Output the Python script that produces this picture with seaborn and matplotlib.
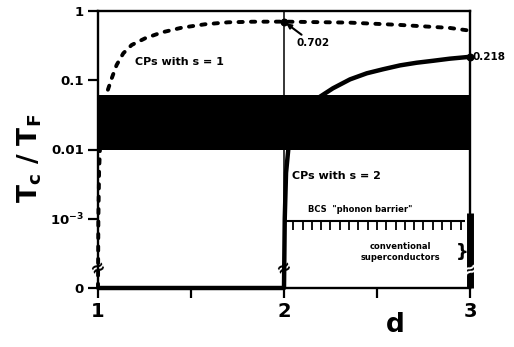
import numpy as np
import matplotlib
matplotlib.use("Agg")
import matplotlib.pyplot as plt
from matplotlib.ticker import NullLocator
import seaborn as sns

# ---------------- data ----------------
# CPs with s = 1 (dashed curve)
d_s1 = [1.0, 1.002, 1.006, 1.015, 1.03, 1.047, 1.074, 1.10, 1.136, 1.181, 1.253,
        1.342, 1.45, 1.575, 1.70, 1.83, 2.0, 2.35, 2.62, 2.89, 3.0]
tc_s1 = [0.0, 1e-3, 5e-3, 0.02, 0.045, 0.065, 0.107, 0.166, 0.245, 0.323, 0.403,
         0.49, 0.574, 0.643, 0.687, 0.70, 0.702, 0.68, 0.63, 0.57, 0.52]
# CPs with s = 2 (solid curve)
d_s2 = [1.0, 2.0, 2.004, 2.011, 2.023, 2.06, 2.12, 2.194, 2.263, 2.355, 2.445,
        2.532, 2.624, 2.713, 2.801, 2.892, 3.0]
tc_s2 = [0.0, 0.0, 1e-3, 4.6e-3, 0.01, 0.025, 0.042, 0.058, 0.0765, 0.103, 0.126,
         0.144, 0.164, 0.179, 0.191, 0.205, 0.218]
# black band (exotic superconductors)
band_d = [1.0, 3.0]
band_lo = 0.01
band_hi = 0.061
# BCS "phonon barrier" level and conventional superconductors range at d = 3
bcs_d = [2.0, 3.0]
bcs_level = 0.93e-3
conv_d = 3.0
conv_range = [0.0, 1.2e-3]
# marked points
mark_d = [2.0, 3.0]
mark_tc = [0.702, 0.218]
mark_labels = ["0.702", "0.218"]

y_ticks = [0.0, 1e-3, 1e-2, 1e-1, 1.0]
y_ticklabels = ["0", r"$\mathbf{10^{-3}}$", "0.01", "0.1", "1"]
x_ticks = [1, 1.5, 2, 2.5, 3]
x_ticklabels = ["1", "", "2", "", "3"]

ZERO = 1e-4  # where the broken axis draws "0"


def ymap(v):
    v = np.asarray(v, dtype=float)
    return np.where(v <= 0, ZERO, v)


sns.set_style("ticks")
plt.rcParams["font.family"] = ["DejaVu Sans"]
plt.rcParams["font.weight"] = "bold"
plt.rcParams["mathtext.fontset"] = "dejavusans"
for key in ["text.color", "axes.labelcolor", "xtick.color", "ytick.color",
            "axes.edgecolor"]:
    plt.rcParams[key] = "black"

fig = plt.figure(figsize=(5.14, 3.47), dpi=100)
ax = fig.add_axes([98 / 514, 1 - 288 / 347, 372 / 514, 277 / 347])
ax.set_yscale("log")
ax.set_xlim(1, 3)
ax.set_ylim(ZERO, 1)

# band
ax.fill_between(band_d, band_lo, band_hi, color="black", lw=0, zorder=2)

# thin vertical line at d = 2
ax.axvline(2, color="black", lw=1.1, zorder=1)

# curves
sns.lineplot(x=d_s1, y=ymap(tc_s1), ax=ax, color="black", linewidth=2.8,
             estimator=None, sort=False, clip_on=False, zorder=3)
dash_line = ax.get_lines()[-1]
dash_line.set_linestyle((0, (1.1, 2.1)))
dash_line.set_dash_capstyle("round")
sns.lineplot(x=d_s2, y=ymap(tc_s2), ax=ax, color="black", linewidth=3.2,
             estimator=None, sort=False, clip_on=False, zorder=3,
             solid_capstyle="butt", solid_joinstyle="round")

# marked points
ax.scatter(mark_d, mark_tc, s=22, color="black", zorder=4, clip_on=False)
ax.annotate(mark_labels[0], xy=(mark_d[0], mark_tc[0]), xytext=(2.065, 0.345),
            fontsize=7.5, fontweight="bold", ha="left", va="center",
            arrowprops=dict(arrowstyle="-|>", color="black", lw=1.5,
                            mutation_scale=7, shrinkA=0, shrinkB=2))
ax.text(3.012, mark_tc[1], mark_labels[1], fontsize=7.5, fontweight="bold",
        ha="left", va="center", clip_on=False)

# BCS phonon barrier comb
ax.hlines(bcs_level, bcs_d[0], bcs_d[1] - 0.025, color="black", lw=1.5, zorder=3)
comb_x = np.arange(2.05, 2.96, 0.05)
ax.vlines(comb_x, bcs_level * 10 ** (-9 / 69.25), bcs_level,
          color="black", lw=1.3, zorder=3)
ax.text(2.41, 1.38e-3, 'BCS  "phonon barrier"', fontsize=6, fontweight="bold",
        ha="center", va="center")

# conventional superconductors bar at d = 3
ax.plot([conv_d, conv_d], ymap(conv_range), color="black", lw=5,
        solid_capstyle="butt", zorder=4, clip_on=False)
ax.text(2.625, 3.3e-4, "conventional\nsuperconductors", fontsize=6,
        fontweight="bold", ha="center", va="center", linespacing=1.25)
ax.text(2.96, 3.3e-4, "}", fontsize=13, fontweight="bold", ha="center", va="center")

# curve labels
ax.text(1.199, 0.184, "CPs with s = 1", fontsize=8, fontweight="bold",
        ha="left", va="center")
ax.text(2.043, 4.1e-3, "CPs with s = 2", fontsize=8, fontweight="bold",
        ha="left", va="center")

# axis break marks
for xb, yb, col in [(1.0, 1.95e-4, "black"), (2.0, 1.95e-4, "black"), (3.0, 1.8e-4, "white")]:
    ax.text(xb, yb, "\u2248", fontsize=13, fontweight="bold", color=col,
            ha="center", va="center", rotation=25, zorder=5)

# axes styling
ax.set_yticks(y_ticks[1:] + [ZERO])
ax.set_yticklabels(y_ticklabels[1:] + [y_ticklabels[0]])
ax.yaxis.set_minor_locator(NullLocator())
ax.set_xticks(x_ticks)
ax.set_xticklabels(x_ticklabels)
ax.tick_params(axis="both", direction="out", length=7, width=1.6, color="black",
               labelcolor="black")
ax.tick_params(axis="y", labelsize=9.5, pad=3)
ax.tick_params(axis="x", labelsize=14, pad=3)
for lab in ax.get_xticklabels() + ax.get_yticklabels():
    lab.set_fontweight("bold")
for sp in ax.spines.values():
    sp.set_linewidth(1.7)
    sp.set_color("black")
ax.set_facecolor("white")

fig.text(30 / 514, 1 - 158 / 347, r"$\mathbf{T_c\ /\ T_F}$", rotation=90,
         fontsize=19, ha="center", va="center", color="black")
fig.text(395 / 514, 1 - 325 / 347, "d", fontsize=19, fontweight="bold",
         ha="center", va="center", color="black")

fig.savefig("out.png", dpi=100, facecolor="white")
